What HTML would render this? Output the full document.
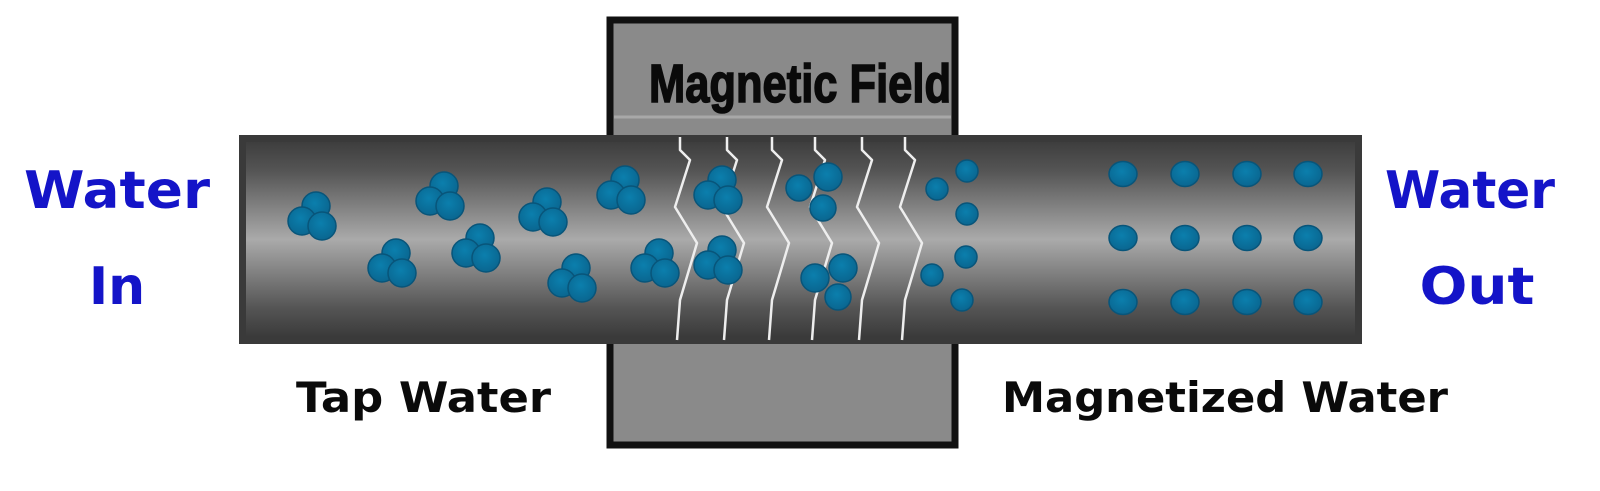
<!DOCTYPE html>
<html><head><meta charset="utf-8"><style>html,body{margin:0;padding:0;background:#fff}svg{display:block}</style></head>
<body>
<svg width="1600" height="491" viewBox="0 0 1600 491" xmlns="http://www.w3.org/2000/svg">
<defs>
<linearGradient id="pg" x1="0" y1="0" x2="0" y2="1">
<stop offset="0" stop-color="#3e3e3e"/><stop offset="0.15" stop-color="#555"/><stop offset="0.5" stop-color="#aaa"/><stop offset="0.85" stop-color="#555"/><stop offset="1" stop-color="#3a3a3a"/>
</linearGradient>
<radialGradient id="bg" cx="0.45" cy="0.4" r="0.6"><stop offset="0" stop-color="#0b7fad"/><stop offset="1" stop-color="#0a6690"/></radialGradient>
<g id="cl"><circle cx="4" cy="-12" r="14"/><circle cx="-10" cy="3" r="14"/><circle cx="10" cy="8" r="14"/></g>
</defs>
<!-- magnet box -->
<rect x="610" y="20" width="345" height="425" fill="#8a8a8a" stroke="#111" stroke-width="7"/>
<line x1="614" y1="117" x2="951" y2="117" stroke="#a8a8a8" stroke-width="3"/>
<text x="800" y="102" text-anchor="middle" font-family="Liberation Sans, sans-serif" font-weight="bold" font-size="54" textLength="302" lengthAdjust="spacingAndGlyphs" fill="#0a0a0a" stroke="#0a0a0a" stroke-width="1.6">Magnetic Field</text>
<!-- pipe -->
<rect x="239" y="135" width="1123" height="209" fill="#3a3a3a"/>
<rect x="246" y="142" width="1109" height="195" fill="url(#pg)"/>
<!-- zigzags -->
<g fill="none" stroke="#eee" stroke-width="2.5" stroke-linejoin="round">
<polyline points="680,137 680,150 690,160 675,207 697,243 680,300 677,340"/>
<polyline points="727,137 727,150 737,160 722,207 744,243 727,300 724,340"/>
<polyline points="772,137 772,150 782,160 767,207 789,243 772,300 769,340"/>
<polyline points="815,137 815,150 825,160 810,207 832,243 815,300 812,340"/>
<polyline points="862,137 862,150 872,160 857,207 879,243 862,300 859,340"/>
<polyline points="905,137 905,150 915,160 900,207 922,243 905,300 902,340"/>
</g>
<g fill="url(#bg)" stroke="#08557a" stroke-width="1.5">
<use href="#cl" x="312" y="218"/>
<use href="#cl" x="392" y="265"/>
<use href="#cl" x="440" y="198"/>
<use href="#cl" x="476" y="250"/>
<use href="#cl" x="543" y="214"/>
<use href="#cl" x="572" y="280"/>
<use href="#cl" x="621" y="192"/>
<use href="#cl" x="655" y="265"/>
<use href="#cl" x="718" y="192"/>
<use href="#cl" x="718" y="262"/>
<circle cx="799" cy="188" r="13"/><circle cx="828" cy="177" r="14"/><circle cx="823" cy="208" r="13"/>
<circle cx="815" cy="278" r="14"/><circle cx="843" cy="268" r="14"/><circle cx="838" cy="297" r="13"/>
<circle cx="937" cy="189" r="11"/><circle cx="967" cy="171" r="11"/><circle cx="967" cy="214" r="11"/>
<circle cx="966" cy="257" r="11"/><circle cx="932" cy="275" r="11"/><circle cx="962" cy="300" r="11"/>
<g>
<ellipse cx="1123" cy="174" rx="14" ry="12.5"/><ellipse cx="1185" cy="174" rx="14" ry="12.5"/><ellipse cx="1247" cy="174" rx="14" ry="12.5"/><ellipse cx="1308" cy="174" rx="14" ry="12.5"/>
<ellipse cx="1123" cy="238" rx="14" ry="12.5"/><ellipse cx="1185" cy="238" rx="14" ry="12.5"/><ellipse cx="1247" cy="238" rx="14" ry="12.5"/><ellipse cx="1308" cy="238" rx="14" ry="12.5"/>
<ellipse cx="1123" cy="302" rx="14" ry="12.5"/><ellipse cx="1185" cy="302" rx="14" ry="12.5"/><ellipse cx="1247" cy="302" rx="14" ry="12.5"/><ellipse cx="1308" cy="302" rx="14" ry="12.5"/>
</g>
</g>
<!-- labels -->
<g font-family="DejaVu Sans, Liberation Sans, sans-serif" font-weight="bold">
<text x="117" y="208" text-anchor="middle" font-size="52" fill="#1414c8" textLength="186" lengthAdjust="spacingAndGlyphs">Water</text>
<text x="117" y="304" text-anchor="middle" font-size="52" fill="#1414c8">In</text>
<text x="1470" y="208" text-anchor="middle" font-size="52" fill="#1414c8" textLength="170" lengthAdjust="spacingAndGlyphs">Water</text>
<text x="1477" y="304" text-anchor="middle" font-size="52" fill="#1414c8" textLength="115" lengthAdjust="spacingAndGlyphs">Out</text>
<text x="296" y="412" font-size="42" fill="#0a0a0a" textLength="255" lengthAdjust="spacingAndGlyphs">Tap Water</text>
<text x="1002" y="412" font-size="42" fill="#0a0a0a" textLength="446" lengthAdjust="spacingAndGlyphs">Magnetized Water</text>
</g>
</svg>
</body></html>
